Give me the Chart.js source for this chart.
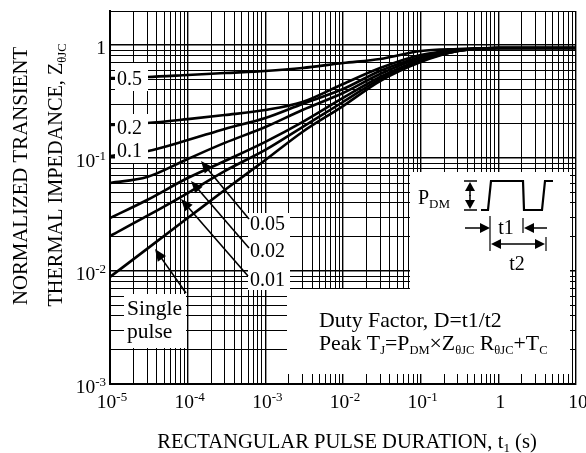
<!DOCTYPE html>
<html>
<head>
<meta charset="utf-8">
<script src="https://cdn.jsdelivr.net/npm/chart.js@4.4.1/dist/chart.umd.min.js"></script>
<style>
  html, body { margin: 0; padding: 0; background: #fff; }
  #wrap { width: 586px; height: 453px; }
</style>
</head>
<body>
<div id="wrap"><canvas id="zth"></canvas></div>
<script>
// pulse duration t1 (s)
const pulseWidths = [1e-5, 3e-5, 1e-4, 3e-4, 1e-3, 3e-3, 1e-2, 3e-2, 1e-1, 3e-1, 1, 10];

// normalized transient thermal impedance, one list per duty factor
const zD050 = [0.511, 0.521, 0.543, 0.565, 0.589, 0.626, 0.693, 0.752, 0.885, 0.922, 0.941, 0.941];
const zD020 = [0.196, 0.204, 0.221, 0.240, 0.266, 0.313, 0.452, 0.626, 0.816, 0.903, 0.941, 0.941];
const zD010 = [0.104, 0.115, 0.144, 0.181, 0.226, 0.301, 0.408, 0.589, 0.783, 0.903, 0.941, 0.941];
const zD005 = [0.0601, 0.0679, 0.098, 0.136, 0.188, 0.266, 0.376, 0.554, 0.767, 0.903, 0.941, 0.941];
const zD002 = [0.0294, 0.0425, 0.0665, 0.094, 0.139, 0.208, 0.340, 0.521, 0.737, 0.885, 0.941, 0.941];
const zD001 = [0.0204, 0.0307, 0.0490, 0.0767, 0.118, 0.188, 0.313, 0.500, 0.722, 0.885, 0.941, 0.941];
const zSingle = [0.00885, 0.0157, 0.0294, 0.0521, 0.096, 0.170, 0.288, 0.480, 0.707, 0.885, 0.941, 0.941];

const seriesNames = ['0.5', '0.2', '0.1', '0.05', '0.02', '0.01', 'Single pulse'];
const seriesData = [zD050, zD020, zD010, zD005, zD002, zD001, zSingle];

// decade tick labels: [base, exponent]
const xTickLabels = [['10', '-5'], ['10', '-4'], ['10', '-3'], ['10', '-2'], ['10', '-1'], ['1', ''], ['10', '']];
const yTickLabels = [['10', '-3'], ['10', '-2'], ['10', '-1'], ['1', '']];

const SERIF = "'Liberation Serif', 'Times New Roman', serif";

function logTicks(min, max) {
  const out = [];
  for (let e = Math.floor(Math.log10(min)); e <= Math.ceil(Math.log10(max)); e++) {
    for (let m = 1; m < 10; m++) {
      const v = m * Math.pow(10, e);
      if (v >= min * 0.999 && v <= max * 1.001) out.push({ value: v });
    }
  }
  return out;
}
const isDecade = v => Math.abs(Math.log10(v) - Math.round(Math.log10(v))) < 1e-6;

// draw text made of normal / sub / sup pieces
function richText(ctx, x, y, parts, size, align, smallSize) {
  const small = smallSize || Math.round(size * 0.68);
  let w = 0;
  parts.forEach(p => {
    ctx.font = (p[1] === 'n' ? size : small) + 'px ' + SERIF;
    w += ctx.measureText(p[0]).width;
  });
  let cx = align === 'center' ? x - w / 2 : align === 'right' ? x - w : x;
  ctx.textAlign = 'left';
  ctx.textBaseline = 'alphabetic';
  parts.forEach(p => {
    const sz = p[1] === 'n' ? size : small;
    ctx.font = sz + 'px ' + SERIF;
    let dy = 0;
    if (p[1] === 'sub') dy = size * 0.2;
    if (p[1] === 'sup') dy = -size * 0.38;
    ctx.fillText(p[0], cx, y + dy);
    cx += ctx.measureText(p[0]).width;
  });
}

function arrow(ctx, x1, y1, x2, y2, len, half, lw) {
  const a = Math.atan2(y2 - y1, x2 - x1);
  ctx.lineWidth = lw;
  ctx.beginPath();
  ctx.moveTo(x1, y1);
  ctx.lineTo(x2 - Math.cos(a) * len * 0.8, y2 - Math.sin(a) * len * 0.8);
  ctx.stroke();
  ctx.beginPath();
  ctx.moveTo(x2, y2);
  ctx.lineTo(x2 - Math.cos(a) * len - Math.sin(a) * half, y2 - Math.sin(a) * len + Math.cos(a) * half);
  ctx.lineTo(x2 - Math.cos(a) * len + Math.sin(a) * half, y2 - Math.sin(a) * len - Math.cos(a) * half);
  ctx.closePath();
  ctx.fill();
}

const annotations = {
  id: 'annotations',
  afterDatasetsDraw(chart) {
    const ctx = chart.ctx;
    const xs = chart.scales.x, ys = chart.scales.y;
    ctx.save();
    ctx.fillStyle = '#fff';
    // white label boxes over the grid
    ctx.fillRect(115, 63, 33, 28);
    ctx.fillRect(115, 114, 33, 49);
    ctx.fillRect(124, 294, 62, 54);
    ctx.fillRect(248, 213, 42, 77);
    ctx.fillRect(287, 289, 283, 85);
    ctx.fillRect(410, 172, 160, 118);

    ctx.fillStyle = '#000';
    ctx.strokeStyle = '#000';
    const fs = 20;
    richText(ctx, 117, 85, [['0.5', 'n']], fs, 'left');
    richText(ctx, 117, 134, [['0.2', 'n']], fs, 'left');
    richText(ctx, 117, 157, [['0.1', 'n']], fs, 'left');
    richText(ctx, 250, 230, [['0.05', 'n']], fs, 'left');
    richText(ctx, 250, 257, [['0.02', 'n']], fs, 'left');
    richText(ctx, 250, 286, [['0.01', 'n']], fs, 'left');
    richText(ctx, 127, 315, [['Single', 'n']], 21.5, 'left');
    richText(ctx, 127, 338, [['pulse', 'n']], 21.5, 'left');

    // pointers from labels to curves
    arrow(ctx, 249, 219, 201, 161, 12, 5, 1.6);
    arrow(ctx, 249, 248, 191, 181, 12, 5, 1.6);
    arrow(ctx, 248, 276, 181, 199, 12, 5, 1.6);
    arrow(ctx, 186, 293, 155, 249, 12, 5, 1.6);

    // inset: pulse train
    richText(ctx, 418, 204, [['P', 'n'], ['DM', 'sub']], fs, 'left', 13);
    ctx.lineWidth = 1.5;
    ctx.beginPath();
    ctx.moveTo(464, 181); ctx.lineTo(477, 181);
    ctx.moveTo(464, 210); ctx.lineTo(477, 210);
    ctx.stroke();
    arrow(ctx, 470, 196, 470, 182, 9, 5, 1.5);
    arrow(ctx, 470, 195, 470, 209, 9, 5, 1.5);
    ctx.lineWidth = 2.2;
    ctx.beginPath();
    ctx.moveTo(481, 210); ctx.lineTo(488, 210); ctx.lineTo(491, 181);
    ctx.lineTo(523, 181); ctx.lineTo(524, 210); ctx.lineTo(542, 210);
    ctx.lineTo(545, 181); ctx.lineTo(553, 181);
    ctx.stroke();
    ctx.lineWidth = 1.2;
    ctx.beginPath();
    ctx.moveTo(490, 216); ctx.lineTo(490, 251);
    ctx.moveTo(523, 218); ctx.lineTo(523, 233);
    ctx.moveTo(546, 237); ctx.lineTo(546, 251);
    ctx.stroke();
    arrow(ctx, 465, 228, 490, 228, 10, 5, 1.5);
    arrow(ctx, 547, 228, 524, 228, 10, 5, 1.5);
    arrow(ctx, 518, 244, 491, 244, 10, 5, 1.5);
    arrow(ctx, 518, 244, 545, 244, 10, 5, 1.5);
    richText(ctx, 506, 234, [['t1', 'n']], fs, 'center');
    richText(ctx, 517, 270, [['t2', 'n']], fs, 'center');

    richText(ctx, 319, 327, [['Duty Factor, D=t1/t2', 'n']], 21.8, 'left');
    richText(ctx, 319, 350, [['Peak T', 'n'], ['J', 'sub'], ['=P', 'n'], ['DM', 'sub'], ['\u00d7Z', 'n'],
      ['\u03b8JC', 'sub'], [' R', 'n'], ['\u03b8JC', 'sub'], ['+T', 'n'], ['C', 'sub']], 21.8, 'left', 12.5);

    // decade tick labels
    xs.ticks.filter(t => isDecade(t.value)).forEach((t, i) => {
      const lab = xTickLabels[i];
      const parts = [[lab[0], 'n']];
      if (lab[1]) parts.push([lab[1], 'sup']);
      richText(ctx, xs.getPixelForValue(t.value) + 2, 408, parts, 19.5, 'center');
    });
    ys.ticks.filter(t => isDecade(t.value)).forEach((t, i) => {
      const lab = yTickLabels[i];
      const parts = [[lab[0], 'n']];
      if (lab[1]) parts.push([lab[1], 'sup']);
      richText(ctx, 106, ys.getPixelForValue(t.value) + 9, parts, 19.5, 'right');
    });

    // axis titles
    richText(ctx, 347, 448, [['RECTANGULAR PULSE DURATION, t', 'n'], ['1', 'sub'], [' (s)', 'n']], 20.6, 'center', 13);
    ctx.save();
    ctx.rotate(-Math.PI / 2);
    richText(ctx, -176, 27, [['NORMALIZED TRANSIENT', 'n']], 20.8, 'center');
    richText(ctx, -175, 62, [['THERMAL IMPEDANCE, Z', 'n'], ['\u03b8JC', 'sub']], 20.3, 'center', 12.5);
    ctx.restore();
    ctx.restore();
  }
};

const gridOpts = {
  color: '#000',
  lineWidth: c => (c.tick && isDecade(c.tick.value)) ? 1.4 : 1,
  drawTicks: false
};

new Chart(document.getElementById('zth'), {
  type: 'line',
  data: {
    datasets: seriesData.map((arr, i) => ({
      label: seriesNames[i],
      data: pulseWidths.map((t, j) => ({ x: t, y: arr[j] })),
      borderColor: '#000',
      borderWidth: 2.6,
      pointRadius: 0,
      cubicInterpolationMode: 'monotone',
      fill: false
    }))
  },
  options: {
    responsive: true,
    maintainAspectRatio: false,
    animation: false,
    layout: { padding: { left: 110, top: 11, right: 10, bottom: 69 } },
    plugins: { legend: { display: false }, tooltip: { enabled: false } },
    scales: {
      x: {
        type: 'logarithmic', min: 1e-5, max: 10,
        afterBuildTicks: s => { s.ticks = logTicks(1e-5, 10); },
        ticks: { display: false },
        grid: gridOpts,
        border: { color: '#000', width: 2 }
      },
      y: {
        type: 'logarithmic', min: 1e-3, max: 2,
        afterBuildTicks: s => { s.ticks = logTicks(1e-3, 2); },
        ticks: { display: false },
        grid: gridOpts,
        border: { color: '#000', width: 2 }
      }
    }
  },
  plugins: [annotations]
});
</script>
</body>
</html>
